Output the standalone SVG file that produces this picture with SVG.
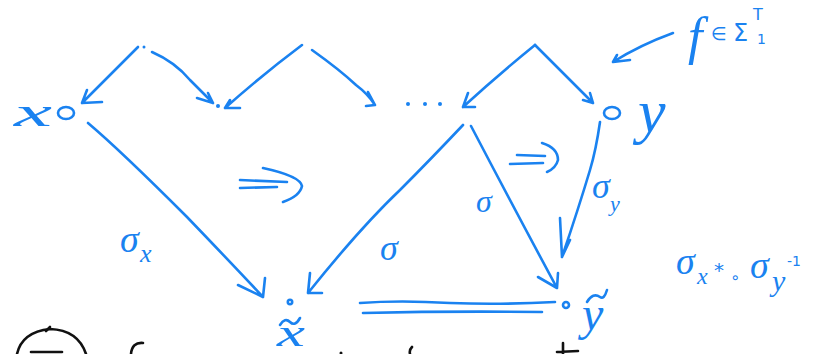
<svg xmlns="http://www.w3.org/2000/svg" width="816" height="354" viewBox="0 0 816 354">
<defs>
<style>
.s{fill:none;stroke:#1a82f0;stroke-width:2.6;stroke-linecap:round;stroke-linejoin:round}
.k{fill:none;stroke:#111;stroke-width:2.6;stroke-linecap:round;stroke-linejoin:round}
.pt{fill:none;stroke:#1a82f0;stroke-width:2.6}
.t{fill:#1a82f0;font-family:"Liberation Serif","DejaVu Serif",serif;font-style:italic}
.m{fill:#1a82f0;font-family:"DejaVu Sans","Liberation Sans",sans-serif}
</style>
</defs>
<rect width="816" height="354" fill="#fff"/>

<g id="top-a"><circle cx="144" cy="47" r="1.5" fill="#1a82f0"/></g>

<g id="x0">
<text class="t" x="14" y="126" font-size="42" textLength="38" lengthAdjust="spacingAndGlyphs">x</text>
<ellipse class="pt" cx="66" cy="113" rx="8" ry="6"/>
</g>
<g id="dot1"><circle cx="218" cy="106" r="2" fill="#1a82f0"/></g>
<g id="ellipsis">
<circle cx="408" cy="104" r="2" fill="#1a82f0"/>
<circle cx="425" cy="104" r="2" fill="#1a82f0"/>
<circle cx="440" cy="104" r="2" fill="#1a82f0"/>
</g>
<g id="y">
<ellipse class="pt" cx="612" cy="113" rx="8" ry="6"/>
<text class="t" x="638" y="132" font-size="62">y</text>
</g>
<g id="xhat">
<circle class="pt" cx="290" cy="302" r="2.2" stroke-width="2"/>
<path class="s" d="M280,325 Q285,317 290,322 Q295,327 300,318"/>
<text class="t" x="277" y="346" font-size="38" textLength="28" lengthAdjust="spacingAndGlyphs">x</text>
</g>
<g id="yhat">
<circle class="pt" cx="566" cy="305" r="3" stroke-width="2"/>
<path class="s" d="M587,302 Q593,292 600,297 Q604,300 607,290"/>
<text class="t" x="582" y="330" font-size="48">y</text>
</g>
<g id="f-label">
<text class="t" x="688" y="54" font-size="52">f</text>
<text class="m" x="711" y="40" font-size="18">∈</text>
<text class="m" x="733" y="41" font-size="24">Σ</text>
<text class="m" x="753" y="20" font-size="16">T</text>
<text class="m" x="757" y="44" font-size="14">1</text>
</g>

<g id="connectors">
<path class="s" d="M138,47 Q110,75 82,103 M87,90 L82,103 L102,102"/>
<path class="s" d="M152,52 Q175,62 190,80 Q203,93 213,103 M197,98 L213,103 L208,93"/>
<path class="s" d="M302,45 Q262,75 225,108 M230,100 L225,108 L240,108"/>
<path class="s" d="M312,50 Q340,70 356,85 Q368,94 375,105 M368,92 L375,105 L366,106"/>
<path class="s" d="M535,45 Q498,75 463,107 M468,93 L463,107 L475,107"/>
<path class="s" d="M535,45 Q565,75 593,103 M590,93 L593,103 L583,100"/>
<path class="s" d="M673,33 Q640,45 613,62 M617,55 L613,62 L630,60"/>
<path class="s" d="M88,123 Q120,150 187,217 Q235,267 263,297 M238,285 L263,297 L265,278"/>
<path class="s" d="M463,125 Q430,160 400,190 Q360,228 308,293 M310,273 L308,293 L322,293"/>
<path class="s" d="M471,126 Q515,210 557,288 M538,277 L557,288 L558,273"/>
<path class="s" d="M600,122 Q596,150 590,170 Q578,210 562,257 M560,218 L562,257 L570,240"/>
<path class="s" d="M360,303 Q400,300 450,303 Q500,305 555,302" stroke-width="2"/>
<path class="s" d="M363,313 Q450,311 542,312" stroke-width="2"/>
<path class="s" d="M240,180 L287,182 M240,188 L277,187 M263,168 Q300,176 302,186 Q300,196 283,202"/>
<path class="s" d="M517,155 L545,156 M510,164 L543,163 M542,143 Q558,148 558,160 Q556,168 547,172"/>
</g>

<g id="labels">
<text class="t" x="120" y="252" font-size="38">σ</text>
<text class="t" x="140" y="262" font-size="26">x</text>
<text class="t" x="380" y="260" font-size="36">σ</text>
<text class="t" x="476" y="212" font-size="32">σ</text>
<text class="t" x="592" y="198" font-size="36">σ</text>
<text class="t" x="610" y="211" font-size="22">y</text>
<text class="t" x="676" y="274" font-size="38">σ</text>
<text class="t" x="697" y="284" font-size="24">x</text>
<text class="m" x="714" y="277" font-size="20">*</text>
<text class="m" x="730" y="283" font-size="16">∘</text>
<text class="t" x="750" y="278" font-size="38">σ</text>
<text class="t" x="772" y="291" font-size="30">y</text>
<text class="m" x="787" y="266" font-size="14">-1</text>
</g>

<g id="bottom-cut">
<path class="k" d="M17,354 Q22,332 50,329 Q78,330 86,354"/>
<path class="k" d="M46,331 L50,327"/>
<path class="k" d="M31,352 L62,352"/>
<path class="k" d="M143,343 Q132,342 131,354"/>
<circle cx="341" cy="353" r="1.5" fill="#111"/>
<path class="k" d="M412,347 Q409,350 410,354"/>
<path class="k" d="M563,343 L563,354 M557,352 L578,351"/>
</g>
</svg>
